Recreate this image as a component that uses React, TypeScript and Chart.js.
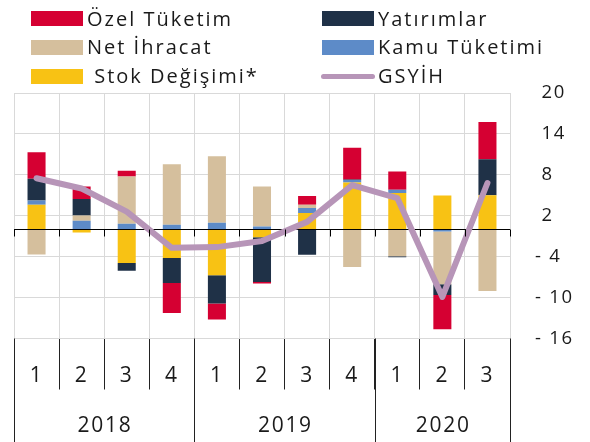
import React, { useEffect, useRef } from 'react';
import { Chart, registerables } from 'chart.js';

Chart.register(...registerables);

// ---- data ----
const quarters = ['1', '2', '3', '4', '1', '2', '3', '4', '1', '2', '3'];
const years = ['2018', '2019', '2020'];
const quartersPerYear = [4, 4, 3];

const stokDegisimi = [3.6, -0.44, -4.93, -4.2, -6.73, -1.17, 2.39, 6.88, 5.33, 4.98, 5.02];
const kamuTuketimi = [0.63, 1.27, 0.83, 0.68, 0.98, 0.44, 0.73, 0.35, 0.49, -0.3, 0];
const netIhracat = [-3.7, 0.78, 6.93, 8.88, 9.76, 5.86, 0.49, -5.52, -3.95, -7.76, -9.05];
const yatirimlar = [3.18, 2.39, -1.12, -3.66, -4.15, -6.54, -3.71, 0.1, -0.15, -1.56, 5.27];
const ozelTuketim = [3.9, 1.85, 0.83, -4.39, -2.34, -0.24, 1.27, 4.64, 2.68, -5.02, 5.46];
const gsyih = [7.5, 6.0, 2.6, -2.7, -2.6, -1.7, 1.1, 6.5, 4.6, -9.9, 6.8];

const yTickValues = [20, 14, 8, 2, -4, -10, -16];

const C_OZEL = '#D50032';
const C_YAT = '#1F3147';
const C_NET = '#D5BF9D';
const C_KAMU = '#5D8BC8';
const C_STOK = '#F8C214';
const C_GSYIH = '#B795B8';
const GRID = '#D9D9D9';
const TEXT = '#1a1a1a';
const FONT = "'Open Sans', 'Noto Sans', sans-serif";
const CANVAS_LS = '1.7px';

// year groups built from the year table (positions in category-index units)
const yearBoundaries: number[] = [];
const yearCenters: { value: number; label: string }[] = [];
{
  let start = -0.5;
  yearBoundaries.push(start);
  quartersPerYear.forEach((n, i) => {
    yearCenters.push({ value: start + n / 2, label: years[i] });
    start += n;
    yearBoundaries.push(start);
  });
}

const legendItems = [
  { label: 'Özel Tüketim', color: C_OZEL, col: 0, row: 0, kind: 'box' },
  { label: 'Yatırımlar', color: C_YAT, col: 1, row: 0, kind: 'box' },
  { label: 'Net İhracat', color: C_NET, col: 0, row: 1, kind: 'box' },
  { label: 'Kamu Tüketimi', color: C_KAMU, col: 1, row: 1, kind: 'box' },
  { label: ' Stok Değişimi*', color: C_STOK, col: 0, row: 2, kind: 'box' },
  { label: 'GSYİH', color: C_GSYIH, col: 1, row: 2, kind: 'line' },
];

const letterSpacingPlugin = {
  id: 'letterSpacing',
  beforeUpdate(chart: any) {
    chart.ctx.letterSpacing = CANVAS_LS;
  },
  beforeDraw(chart: any) {
    chart.ctx.letterSpacing = CANVAS_LS;
  },
};

// small tick marks hanging from the zero line + the year row under the quarter axis
const axisDecorPlugin = {
  id: 'axisDecor',
  afterDatasetsDraw(chart: any) {
    const x = chart.scales.x;
    const y = chart.scales.y;
    const ctx = chart.ctx;
    const y0 = Math.round(y.getPixelForValue(0)) + 0.5;
    ctx.save();
    ctx.strokeStyle = '#000';
    ctx.lineWidth = 1;
    ctx.beginPath();
    for (let i = 0; i <= quarters.length; i++) {
      const px = Math.round(x.getPixelForValue(i - 0.5)) + 0.5;
      ctx.moveTo(px, y0);
      ctx.lineTo(px, y0 + 7);
    }
    ctx.stroke();
    ctx.restore();
  },
  afterDraw(chart: any) {
    const x = chart.scales.x;
    const ctx = chart.ctx;
    const top = x.top;
    const bottom = chart.height;
    ctx.save();
    ctx.strokeStyle = '#222';
    ctx.lineWidth = 1;
    ctx.beginPath();
    yearBoundaries.forEach((b) => {
      const px = Math.round(x.getPixelForValue(b)) + 0.5;
      ctx.moveTo(px, top);
      ctx.lineTo(px, bottom);
    });
    ctx.stroke();
    ctx.letterSpacing = CANVAS_LS;
    ctx.fillStyle = TEXT;
    ctx.font = `21px ${FONT}`;
    ctx.textAlign = 'center';
    ctx.textBaseline = 'middle';
    const labelY = x.bottom + (bottom - x.bottom) * 0.68;
    yearCenters.forEach((c) => {
      ctx.fillText(c.label, x.getPixelForValue(c.value) + 0.85, labelY);
    });
    ctx.restore();
  },
};

export default function App() {
  const canvasRef = useRef<HTMLCanvasElement | null>(null);

  useEffect(() => {
    const canvas = canvasRef.current;
    if (!canvas) return;
    const barCommon = {
      type: 'bar' as const,
      stack: 'comp',
      order: 2,
      borderWidth: 0,
      barPercentage: 0.4,
      categoryPercentage: 1,
      xAxisID: 'x',
      yAxisID: 'y',
    };
    const chart = new Chart(canvas, {
      type: 'bar',
      data: {
        labels: quarters,
        datasets: [
          { ...barCommon, label: 'Stok Değişimi*', data: stokDegisimi, backgroundColor: C_STOK },
          { ...barCommon, label: 'Kamu Tüketimi', data: kamuTuketimi, backgroundColor: C_KAMU },
          { ...barCommon, label: 'Net İhracat', data: netIhracat, backgroundColor: C_NET },
          { ...barCommon, label: 'Yatırımlar', data: yatirimlar, backgroundColor: C_YAT },
          { ...barCommon, label: 'Özel Tüketim', data: ozelTuketim, backgroundColor: C_OZEL },
          {
            type: 'line',
            label: 'GSYİH',
            data: gsyih,
            stack: 'gdp',
            order: 1,
            borderColor: C_GSYIH,
            backgroundColor: C_GSYIH,
            borderWidth: 6,
            pointRadius: 0,
            borderCapStyle: 'round',
            borderJoinStyle: 'round',
            tension: 0,
            xAxisID: 'x',
            yAxisID: 'y',
          } as any,
        ],
      },
      options: {
        responsive: false,
        animation: false,
        devicePixelRatio: 1,
        layout: { padding: { top: 93, left: 14, right: 0, bottom: 50 } },
        plugins: {
          legend: { display: false },
          tooltip: { enabled: false },
        },
        scales: {
          x: {
            type: 'category',
            position: 'bottom',
            stacked: true,
            offset: true,
            border: { display: false },
            grid: {
              display: true,
              offset: true,
              drawOnChartArea: true,
              color: GRID,
              tickColor: '#222',
              tickLength: 51,
              lineWidth: 1,
            },
            ticks: {
              autoSkip: false,
              maxRotation: 0,
              padding: -26.4,
              color: TEXT,
              font: { family: FONT, size: 21 },
            },
            afterFit: (scale: any) => {
              scale.height = 53.5;
            },
          },
          y: {
            type: 'linear',
            position: 'right',
            stacked: true,
            min: -16,
            max: 20,
            border: { display: false },
            grid: {
              drawTicks: false,
              color: (ctx: any) => (ctx.tick && ctx.tick.value === 0 ? '#000' : GRID),
              lineWidth: 1,
            },
            afterBuildTicks: (scale: any) => {
              const vals = [...yTickValues, 0].sort((a, b) => a - b);
              scale.ticks = vals.map((v) => ({ value: v }));
            },
            ticks: {
              padding: 25,
              crossAlign: 'near',
              color: TEXT,
              font: { family: FONT, size: 18.5 },
              callback: (value: any) => {
                const v = Number(value);
                if (!yTickValues.includes(v)) return '';
                return v < 0 ? '- ' + Math.abs(v) : ' ' + v;
              },
            },
            afterFit: (scale: any) => {
              scale.width = 80;
            },
          },
        },
      } as any,
      plugins: [letterSpacingPlugin, axisDecorPlugin],
    });
    return () => chart.destroy();
  }, []);

  const colX = [31, 321.5];
  const textX = [87, 378];
  const rowY = [18.5, 47.3, 76.3];

  return (
    <div style={{ position: 'absolute', left: 0, top: 0, width: 590, height: 442, background: '#fff' }}>
      <canvas ref={canvasRef} width={590} height={442} style={{ position: 'absolute', left: 0, top: 0, width: 590, height: 442 }} />
      {legendItems.map((it) => (
        <React.Fragment key={it.label}>
          {it.kind === 'box' ? (
            <div
              style={{
                position: 'absolute',
                left: colX[it.col],
                top: rowY[it.row] - 7.3,
                width: 52,
                height: 14.6,
                background: it.color,
              }}
            />
          ) : (
            <div
              style={{
                position: 'absolute',
                left: colX[it.col] - 1,
                top: rowY[it.row] - 2.8,
                width: 54,
                height: 5.6,
                borderRadius: 3,
                background: it.color,
              }}
            />
          )}
          <div
            style={{
              position: 'absolute',
              left: textX[it.col],
              top: rowY[it.row] - 15,
              height: 30,
              lineHeight: '30px',
              fontFamily: FONT,
              fontSize: 20,
              letterSpacing: '2px',
              color: TEXT,
              whiteSpace: 'pre',
            }}
          >
            {it.label}
          </div>
        </React.Fragment>
      ))}
    </div>
  );
}
